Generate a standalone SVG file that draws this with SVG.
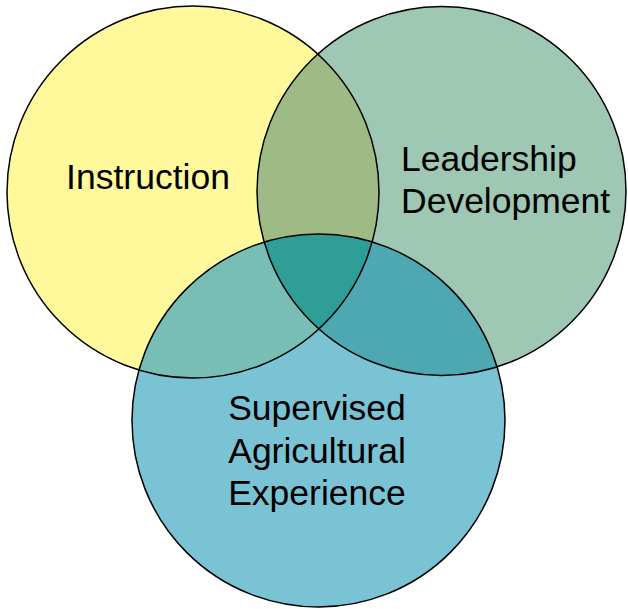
<svg xmlns="http://www.w3.org/2000/svg" width="628" height="609" viewBox="0 0 628 609">
<style>
.lbl{font-family:"Liberation Sans",Arial,sans-serif;font-size:35.5px;fill:#000}
.edge{fill:none;stroke:#000;stroke-width:1.5}
</style>
<defs>
<clipPath id="cA"><circle cx="193" cy="192" r="186"/></clipPath>
<clipPath id="cB"><circle cx="441.5" cy="191" r="184.5"/></clipPath>
<clipPath id="cC"><circle cx="318.5" cy="420.5" r="186.5"/></clipPath>
</defs>
<rect width="628" height="609" fill="#fff"/>
<g id="instruction">
<circle cx="193" cy="192" r="186" fill="#FFF99C"/>
</g>
<g id="leadership">
<circle cx="441.5" cy="191" r="184.5" fill="#9EC7B4"/>
</g>
<g id="sae">
<circle cx="318.5" cy="420.5" r="186.5" fill="#7AC3D4"/>
</g>
<g id="overlaps">
<g clip-path="url(#cA)"><circle cx="441.5" cy="191" r="184.5" fill="#9EBB86"/></g>
<g clip-path="url(#cA)"><circle cx="318.5" cy="420.5" r="186.5" fill="#79BEB5"/></g>
<g clip-path="url(#cB)"><circle cx="318.5" cy="420.5" r="186.5" fill="#4DA8B1"/></g>
<g clip-path="url(#cA)"><g clip-path="url(#cB)"><circle cx="318.5" cy="420.5" r="186.5" fill="#2E9E97"/></g></g>
</g>
<g id="outlines">
<circle class="edge" cx="193" cy="192" r="186"/>
<circle class="edge" cx="441.5" cy="191" r="184.5"/>
<circle class="edge" cx="318.5" cy="420.5" r="186.5"/>
</g>
<g id="labels">
<text class="lbl" x="148" y="189" text-anchor="middle">Instruction</text>
<text class="lbl" x="401" y="171">Leadership</text>
<text class="lbl" x="401" y="213">Development</text>
<text class="lbl" x="317" y="420" text-anchor="middle">Supervised</text>
<text class="lbl" x="317" y="463" text-anchor="middle">Agricultural</text>
<text class="lbl" x="317" y="505" text-anchor="middle">Experience</text>
</g>
</svg>
